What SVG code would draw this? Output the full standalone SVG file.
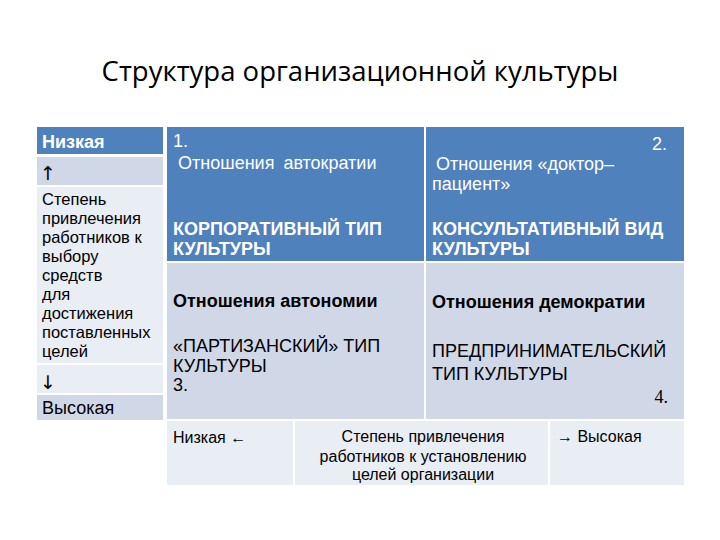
<svg xmlns="http://www.w3.org/2000/svg" width="720" height="540" viewBox="0 0 720 540">
<style>
text{font-family:"Liberation Sans",Arial,sans-serif;}
.t{font-size:18px;fill:#000}
.w{font-size:18px;fill:#fff}
.b{font-weight:bold}
.s{font-size:16.5px;fill:#000}
.f{font-size:16px;fill:#000}
.arr{font-size:19px;fill:#000;font-family:"DejaVu Sans",sans-serif}
.blue{fill:#4f81bd}
.l1{fill:#d0d8e8}
.l2{fill:#e9edf4}
</style>
<rect width="720" height="540" fill="#fff"/>
<text x="360" y="81" text-anchor="middle" font-size="27.5" fill="#000" style="font-family:'Open Sans','Liberation Sans',sans-serif">Структура организационной культуры</text>

<g id="left-column">
<rect class="blue" x="37" y="127" width="126" height="27"/>
<rect class="l1" x="37" y="157" width="126" height="28"/>
<rect class="l2" x="37" y="187" width="126" height="176"/>
<rect class="l2" x="37" y="365" width="126" height="28"/>
<rect class="l1" x="37" y="395" width="126" height="25"/>
<text class="w b" x="42" y="148">Низкая</text>
<text class="arr" x="40" y="180">↑</text>
<text class="s" x="42" y="205">Степень</text>
<text class="s" x="42" y="224">привлечения</text>
<text class="s" x="42" y="243">работников к</text>
<text class="s" x="42" y="262">выбору</text>
<text class="s" x="42" y="281">средств</text>
<text class="s" x="42" y="300">для</text>
<text class="s" x="42" y="319">достижения</text>
<text class="s" x="42" y="338">поставленных</text>
<text class="s" x="42" y="357">целей</text>
<text class="arr" x="40" y="389">↓</text>
<text class="t" x="42" y="414">Высокая</text>
</g>

<g id="cell-1">
<rect class="blue" x="167" y="127" width="257" height="134"/>
<text class="w" x="173" y="147">1.</text>
<text class="w" x="178" y="169" word-spacing="4">Отношения автократии</text>
<text class="w b" x="173" y="235">КОРПОРАТИВНЫЙ ТИП</text>
<text class="w b" x="173" y="255">КУЛЬТУРЫ</text>
</g>

<g id="cell-2">
<rect class="blue" x="426" y="127" width="258" height="134"/>
<text class="w" x="667" y="150" text-anchor="end">2.</text>
<text class="w" x="436" y="170">Отношения «доктор–</text>
<text class="w" x="432" y="190">пациент»</text>
<text class="w b" x="432" y="235">КОНСУЛЬТАТИВНЫЙ ВИД</text>
<text class="w b" x="432" y="255">КУЛЬТУРЫ</text>
</g>

<g id="cell-3">
<rect class="l1" x="167" y="263" width="257" height="156"/>
<text class="t b" x="173" y="307">Отношения автономии</text>
<text class="t" x="173" y="352">«ПАРТИЗАНСКИЙ» ТИП</text>
<text class="t" x="173" y="372">КУЛЬТУРЫ</text>
<text class="t" x="173" y="391">3.</text>
</g>

<g id="cell-4">
<rect class="l1" x="426" y="263" width="258" height="156"/>
<text class="t b" x="432" y="308">Отношения демократии</text>
<text class="t" x="432" y="357">ПРЕДПРИНИМАТЕЛЬСКИЙ</text>
<text class="t" x="432" y="380">ТИП КУЛЬТУРЫ</text>
<text x="668" y="403" text-anchor="end" font-size="18" fill="#000" style="font-family:'Liberation Serif',serif">4.</text>
</g>

<g id="bottom-row">
<rect class="l2" x="167" y="421" width="126" height="64"/>
<rect class="l2" x="295" y="421" width="253" height="64"/>
<rect class="l2" x="550" y="421" width="134" height="64"/>
<text class="f" x="173" y="443">Низкая ←</text>
<text class="f" x="423" y="442" text-anchor="middle">Степень привлечения</text>
<text class="f" x="423" y="462" text-anchor="middle">работников  к установлению</text>
<text class="f" x="423" y="480" text-anchor="middle">целей организации</text>
<text class="f" x="557" y="442">→ Высокая</text>
</g>
<g id="connectors"/>
</svg>
